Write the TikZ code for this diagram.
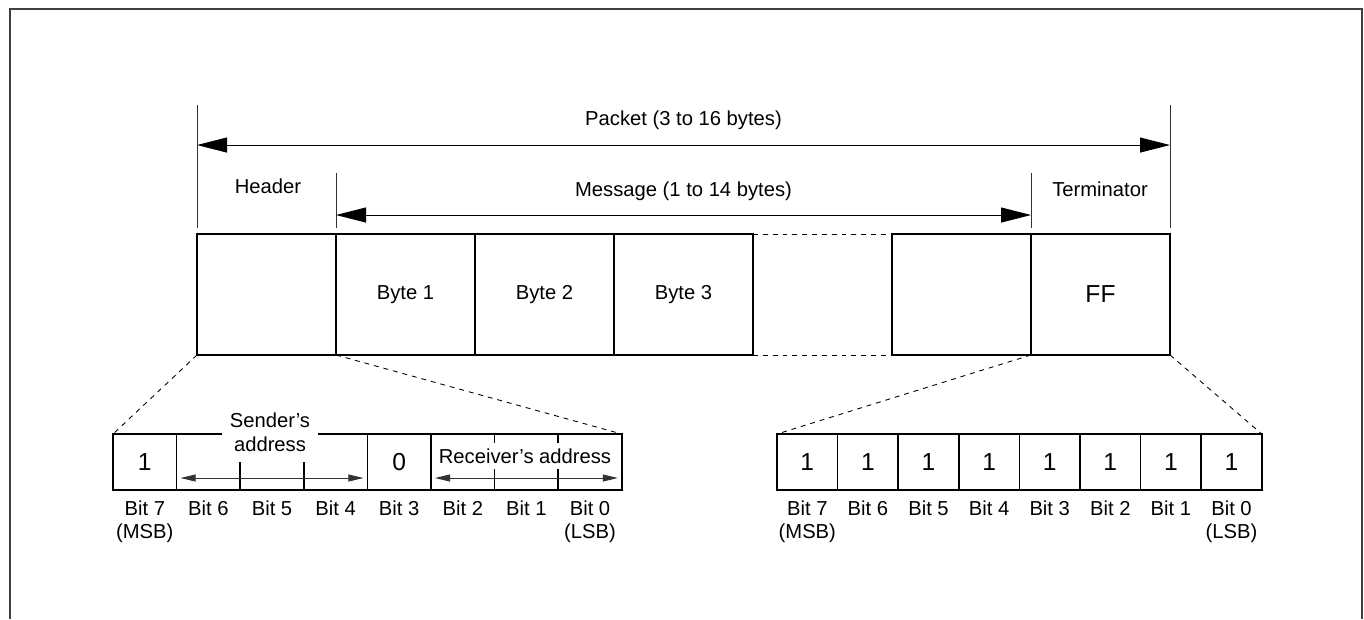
\documentclass[tikz,border=0pt]{standalone}
\usepackage{fontspec}
\setmainfont{Liberation Sans}
\usetikzlibrary{arrows.meta,positioning}
\tikzset{%
  txt/.style = { font=\fontsize{11.5}{13.6}\selectfont, inner sep=1pt },
  big/.style = { font=\fontsize{14}{16}\selectfont },
  cell/.style = { draw, line width=0.9pt, inner sep=0pt, outer sep=0pt, minimum width=2.78cm, minimum height=2.42cm, txt },
  lbit/.style = { cell, minimum width=1.272cm, minimum height=1.12cm, big },
  rbit/.style = { lbit, minimum width=1.212cm },
  divider/.style = { line width=0.9pt },
  tick/.style = { draw=black!80, line width=0.5pt },
  dim/.style = { line width=0.5pt, {Triangle[length=0.6cm,width=0.3cm]}-{Triangle[length=0.6cm,width=0.3cm]} },
  bitdim/.style = { draw=black!80, line width=0.5pt, {Triangle[length=0.3cm,width=0.14cm]}-{Triangle[length=0.3cm,width=0.14cm]} },
  zoomline/.style = { line width=0.5pt, dash pattern=on 2.8pt off 2.8pt },
  frame/.style = { draw=black!75, line width=0.6pt }
}

\begin{document}
\begin{tikzpicture}[x=0.02cm, y=-0.02cm]

  \useasboundingbox (0,0) rectangle (1364,619);
  \draw[frame] (10,619) -- (10,9) -- (1362,9) -- (1362,619);

  % Packet
  \node[cell] (hdr) at (266.5,294.5) {};
  \foreach \i in {1,2,3} {
    \node[cell] (byte\i) at (266.5+139*\i,294.5) {Byte \i};
  }
  \node[cell] (byten) at (961.5,294.5) {};
  \node[cell,big] (term) at (1100.5,294.5) {FF};

  \draw[zoomline] (byte3.north east) -- (byten.north west);
  \draw[zoomline] (byte3.south east) -- (byten.south west);

  % Dimension lines
  \draw[tick] ([yshift=0.12cm]hdr.north west) -- ([yshift=2.58cm]hdr.north west);
  \draw[tick] ([yshift=0.12cm]term.north east) -- ([yshift=2.58cm]term.north east);
  \draw[tick] ([yshift=0.12cm]byte1.north west) -- ([yshift=1.22cm]byte1.north west);
  \draw[tick] ([yshift=0.12cm]term.north west) -- ([yshift=1.22cm]term.north west);

  \coordinate (pktL) at ([yshift=1.78cm]hdr.north west);
  \coordinate (pktR) at ([yshift=1.78cm]term.north east);
  \coordinate (msgL) at ([yshift=0.38cm]byte1.north west);
  \coordinate (msgR) at ([yshift=0.38cm]term.north west);
  \draw[dim] (pktL) -- (pktR);
  \draw[dim] (msgL) -- (msgR);

  \node[txt] (pktlbl) at (683.5,120) {Packet (3 to 16 bytes)};
  \node[txt] (msglbl) at (683.5,191) {Message (1 to 14 bytes)};
  \node[txt] (hdrlbl) at (268,186) {Header};
  \node[txt] (termlbl) at (1100,189) {Terminator};

  % Header bits
  \node[lbit] (lb7) at (144.8,462) {1};
  \node[lbit,minimum width=3.816cm] (lsnd) at (272,462) {};
  \node[lbit] (lb3) at (399.2,462) {0};
  \node[lbit,minimum width=3.816cm] (lrcv) at (526.4,462) {};

  \foreach \x in {240.2,303.8} {
    \draw[divider] (\x,462) -- (\x,490);
  }
  \foreach \x in {494.6,558.2} {
    \draw[divider] (\x,434) -- (\x,490);
  }

  \draw[bitdim] ([xshift=0.08cm,yshift=-0.32cm]lsnd.west) -- ([xshift=-0.08cm,yshift=-0.32cm]lsnd.east);
  \draw[bitdim] ([xshift=0.08cm,yshift=-0.32cm]lrcv.west) -- ([xshift=-0.08cm,yshift=-0.32cm]lrcv.east);

  \node[txt,fill=white,align=center,inner xsep=4.5pt,inner ysep=0pt] (sndlbl) at (270,432) {Sender's\\address};
  \node[txt,fill=white,inner xsep=1pt,inner ysep=3pt] (rcvlbl) at (525,456) {Receiver's address};

  \foreach \i in {0,...,7} {
    \pgfmathtruncatemacro\bitnum{7-\i}
    \node[txt] (llbl\bitnum) at (113+63.6*\i+31.8,508) {Bit \bitnum};
  }
  \node[txt] (lmsb) at (lb7 |- 0,533) {(MSB)};
  \node[txt] (llsb) at (llbl0 |- 0,533) {(LSB)};

  % Terminator bits
  \foreach \i in {0,...,7} {
    \pgfmathtruncatemacro\bitnum{7-\i}
    \node[rbit] (rb\bitnum) at (777+60.6*\i+30.3,462) {1};
    \node[txt] (rlbl\bitnum) at (777+60.6*\i+30.3,508) {Bit \bitnum};
  }
  \node[txt] (rmsb) at (rb7 |- 0,533) {(MSB)};
  \node[txt] (rlsb) at (rb0 |- 0,533) {(LSB)};

  % Zoom lines
  \draw[zoomline] (hdr.south west) -- (lb7.north west);
  \draw[zoomline] (hdr.south east) -- (lrcv.north east);
  \draw[zoomline] (byten.south east) -- (rb7.north west);
  \draw[zoomline] (term.south east) -- (rb0.north east);

\end{tikzpicture}
\end{document}
